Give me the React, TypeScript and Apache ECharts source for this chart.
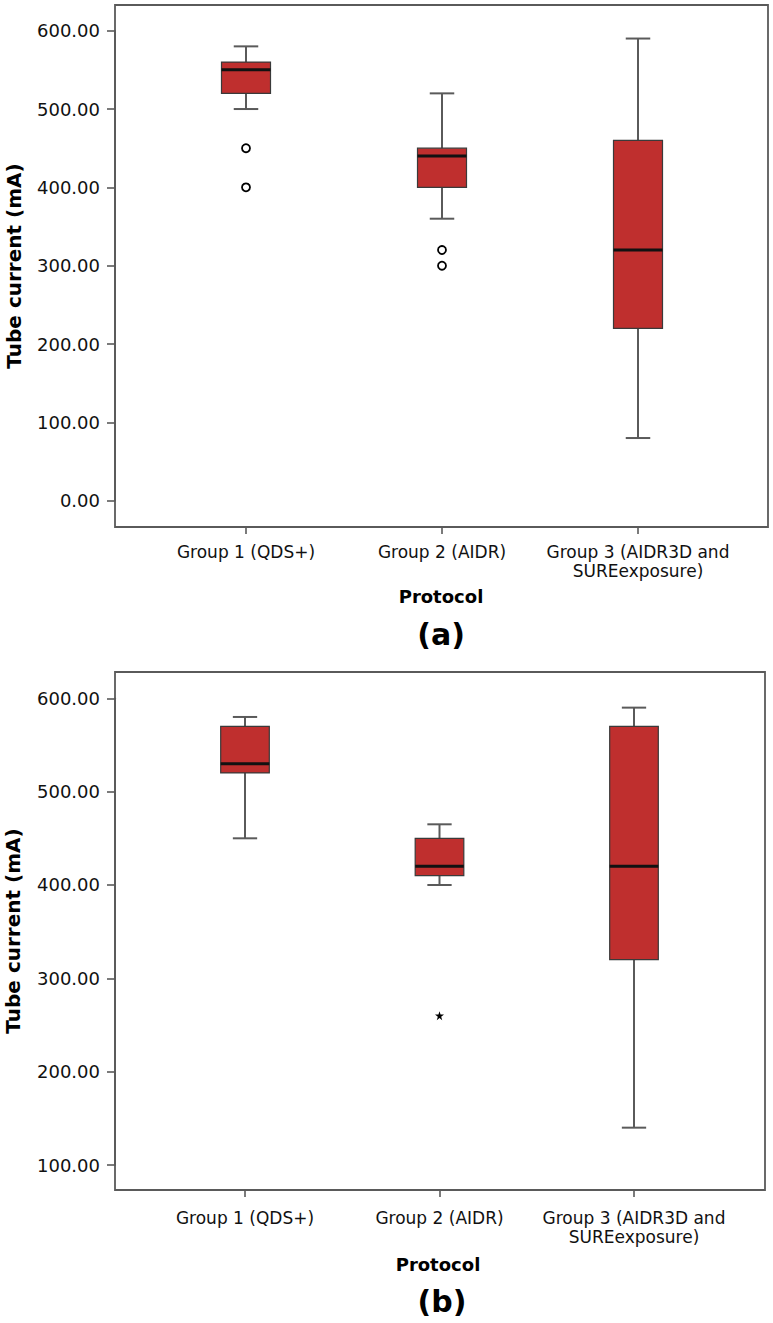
import React, { useEffect, useRef } from "react";
import * as echarts from "echarts";

const categories = ["Group 1 (QDS+)", "Group 2 (AIDR)", "Group 3 (AIDR3D and\nSUREexposure)"];

// Panel (a)
const lowA = [500, 360, 80];
const q1A = [520, 400, 220];
const medA = [550, 440, 320];
const q3A = [560, 450, 460];
const highA = [580, 520, 590];
const outliersA: [number, number][] = [[0, 450], [0, 400], [1, 320], [1, 300]];

// Panel (b)
const lowB = [450, 400, 140];
const q1B = [520, 410, 320];
const medB = [530, 420, 420];
const q3B = [570, 450, 570];
const highB = [580, 465, 590];
const extremesB: [number, number][] = [[1, 260]];

const FONT = '"DejaVu Sans", "Noto Sans", sans-serif';
const BOX_FILL = "#BF2F2E";
const AXIS_COLOR = "#5a5a5a";

const STAR = "path://M50,0 L61,35 L98,35 L68,57 L79,91 L50,70 L21,91 L32,57 L2,35 L39,35 Z";

function boxData(low: number[], q1: number[], med: number[], q3: number[], high: number[]) {
  return categories.map((_, i) => [i, low[i], q1[i], med[i], q3[i], high[i]]);
}

function renderBox(params: any, api: any) {
  const x = api.value(0);
  const low = api.coord([x, api.value(1)]);
  const q1 = api.coord([x, api.value(2)]);
  const med = api.coord([x, api.value(3)]);
  const q3 = api.coord([x, api.value(4)]);
  const high = api.coord([x, api.value(5)]);
  const bw = api.size([1, 0])[0] * 0.25;
  const cx = low[0];
  const cap = bw / 4;
  const wStyle = { stroke: AXIS_COLOR, lineWidth: 2 };
  return {
    type: "group",
    children: [
      { type: "line", shape: { x1: cx, y1: high[1], x2: cx, y2: q3[1] }, style: wStyle },
      { type: "line", shape: { x1: cx, y1: q1[1], x2: cx, y2: low[1] }, style: wStyle },
      { type: "line", shape: { x1: cx - cap, y1: high[1], x2: cx + cap, y2: high[1] }, style: wStyle },
      { type: "line", shape: { x1: cx - cap, y1: low[1], x2: cx + cap, y2: low[1] }, style: wStyle },
      {
        type: "rect",
        shape: { x: cx - bw / 2, y: q3[1], width: bw, height: q1[1] - q3[1] },
        style: { fill: BOX_FILL, stroke: "#3a3a3a", lineWidth: 1.2 },
      },
      { type: "line", shape: { x1: cx - bw / 2, y1: med[1], x2: cx + bw / 2, y2: med[1] }, style: { stroke: "#111", lineWidth: 3 } },
    ],
  };
}

function yAxisCfg(gridIndex: number, min: number, max: number, offset: number) {
  return {
    type: "value",
    gridIndex,
    min,
    max,
    interval: 100,
    offset,
    splitLine: { show: false },
    axisLine: { show: true, onZero: false, lineStyle: { color: AXIS_COLOR, width: 1.8 } },
    axisTick: { show: true, inside: false, length: 8, lineStyle: { color: AXIS_COLOR, width: 1.6 } },
    axisLabel: {
      show: true,
      margin: 15,
      fontSize: 18,
      fontFamily: FONT,
      color: "#111",
      formatter: (v: number) => v.toFixed(2),
    },
  };
}

function xAxisCfg(gridIndex: number, offset: number, margin: number) {
  return {
    type: "category",
    gridIndex,
    data: categories,
    offset,
    boundaryGap: true,
    axisLine: { show: true, onZero: false, lineStyle: { color: AXIS_COLOR, width: 1.8 } },
    axisTick: { show: true, alignWithLabel: true, length: 7, lineStyle: { color: AXIS_COLOR, width: 1.6 } },
    axisLabel: {
      margin,
      interval: 0,
      fontSize: 17,
      lineHeight: 19,
      fontFamily: FONT,
      color: "#111",
      align: "center",
    },
    splitLine: { show: false },
  };
}

export default function App() {
  const ref = useRef<HTMLDivElement>(null);
  useEffect(() => {
    document.body.style.margin = "0";
    const chart = echarts.init(ref.current!, null, { renderer: "svg" });
    const option: any = {
      animation: false,
      backgroundColor: "#fff",
      grid: [
        { left: 148, width: 588, top: 30.7, height: 470 },
        { left: 147.75, width: 583.5, top: 698.3, height: 466.7 },
      ],
      xAxis: [xAxisCfg(0, 26.3, 15), xAxisCfg(1, 25, 18)],
      yAxis: [yAxisCfg(0, 0, 600, 33), yAxisCfg(1, 100, 600, 32.75)],
      series: [
        {
          type: "custom",
          xAxisIndex: 0,
          yAxisIndex: 0,
          renderItem: renderBox,
          encode: { x: 0, y: [1, 2, 3, 4, 5] },
          data: boxData(lowA, q1A, medA, q3A, highA),
          z: 3,
        },
        {
          type: "scatter",
          xAxisIndex: 0,
          yAxisIndex: 0,
          symbol: "circle",
          symbolSize: 8,
          itemStyle: { color: "#fff", borderColor: "#000", borderWidth: 1.8, opacity: 1 },
          data: outliersA,
          z: 4,
        },
        {
          type: "custom",
          xAxisIndex: 1,
          yAxisIndex: 1,
          renderItem: renderBox,
          encode: { x: 0, y: [1, 2, 3, 4, 5] },
          data: boxData(lowB, q1B, medB, q3B, highB),
          z: 3,
        },
        {
          type: "scatter",
          xAxisIndex: 1,
          yAxisIndex: 1,
          symbol: STAR,
          symbolSize: 9,
          itemStyle: { color: "#000", opacity: 1 },
          data: extremesB,
          z: 4,
        },
      ],
      graphic: [
        { type: "rect", shape: { x: 115, y: 5, width: 653, height: 522 }, style: { fill: "none", stroke: AXIS_COLOR, lineWidth: 1.8 }, z: 1 },
        { type: "rect", shape: { x: 115, y: 672, width: 650, height: 518 }, style: { fill: "none", stroke: AXIS_COLOR, lineWidth: 1.8 }, z: 1 },
        {
          type: "text", x: 14, y: 266, rotation: Math.PI / 2,
          style: { text: "Tube current (mA)", fontSize: 20, fontWeight: "bold", fontFamily: FONT, fill: "#000", align: "center", verticalAlign: "middle" },
        },
        {
          type: "text", x: 13, y: 931, rotation: Math.PI / 2,
          style: { text: "Tube current (mA)", fontSize: 20, fontWeight: "bold", fontFamily: FONT, fill: "#000", align: "center", verticalAlign: "middle" },
        },
        {
          type: "text", x: 441, y: 596,
          style: { text: "Protocol", fontSize: 18, fontWeight: "bold", fontFamily: FONT, fill: "#000", align: "center", verticalAlign: "middle" },
        },
        {
          type: "text", x: 438, y: 1264,
          style: { text: "Protocol", fontSize: 18, fontWeight: "bold", fontFamily: FONT, fill: "#000", align: "center", verticalAlign: "middle" },
        },
        {
          type: "text", x: 441, y: 634,
          style: { text: "(a)", fontSize: 30, fontWeight: "bold", fontFamily: FONT, fill: "#000", align: "center", verticalAlign: "middle" },
        },
        {
          type: "text", x: 442, y: 1301,
          style: { text: "(b)", fontSize: 30, fontWeight: "bold", fontFamily: FONT, fill: "#000", align: "center", verticalAlign: "middle" },
        },
      ],
    };
    chart.setOption(option);
    return () => chart.dispose();
  }, []);
  return <div ref={ref} style={{ width: 773, height: 1323 }} />;
}
